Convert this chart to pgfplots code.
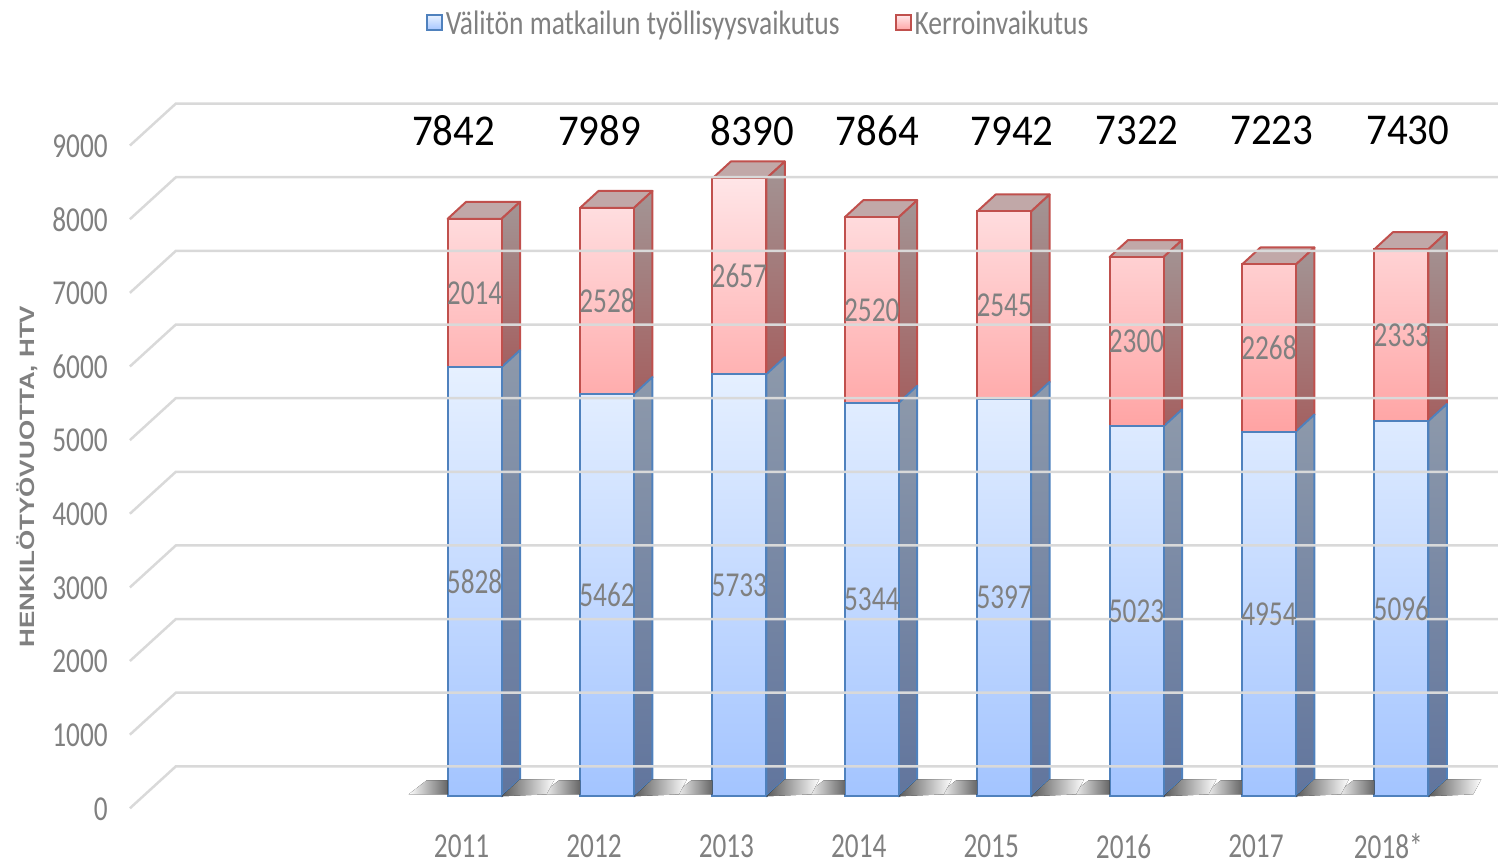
\documentclass[border=0pt]{standalone}
\usepackage{fontspec}
\setmainfont{Carlito}
\newfontfamily\lib{Liberation Sans}
\usepackage{graphicx}
\usepackage{pgfplots}
\pgfplotsset{compat=1.18}
\usepackage{pgfplotstable}

\definecolor{gridc}{HTML}{D9D9D9}
\definecolor{txt}{HTML}{808080}
\definecolor{bT}{HTML}{E6F0FF}
\definecolor{bB}{HTML}{A3C4FF}
\definecolor{bBorder}{HTML}{4F81BD}
\definecolor{bsT}{HTML}{8D99AB}
\definecolor{bsB}{HTML}{61759D}
\definecolor{rT}{HTML}{FFE5E7}
\definecolor{rB}{HTML}{FFA3A3}
\definecolor{rBorder}{HTML}{C0504D}
\definecolor{rsT}{HTML}{A39595}
\definecolor{rsB}{HTML}{A46060}
\definecolor{rTop}{HTML}{C1A8A8}

\pgfplotstableread{
x      blue  red
475    5828  2014
607.5  5462  2528
740    5733  2657
872.5  5344  2520
1005   5397  2545
1137.5 5023  2300
1270   4954  2268
1402.5 5096  2333
}\datatable

\tikzset{
  lbl/.style={font=\fontsize{35}{40}\selectfont, text=txt, inner sep=0pt},
}

% index, x centre, blue value, red value
\newcommand\barfaces[4]{%
  \filldraw[top color=bsT, bottom color=bsB, draw=bBorder, line width=2pt, line join=round]
    (axis cs:#2+27,0) -- (axis cs:#2+45.5,231) -- (axis cs:#2+45.5,#3+231) -- (axis cs:#2+27,#3) -- cycle;
  \filldraw[top color=rsT, bottom color=rsB, draw=rBorder, line width=2pt, line join=round]
    (axis cs:#2+27,#3) -- (axis cs:#2+45.5,#3+231) -- (axis cs:#2+45.5,#3+#4+231) -- (axis cs:#2+27,#3+#4) -- cycle;
  \filldraw[fill=rTop, draw=rBorder, line width=2pt, line join=round]
    (axis cs:#2-27,#3+#4) -- (axis cs:#2+27,#3+#4) -- (axis cs:#2+45.5,#3+#4+231) -- (axis cs:#2-8.5,#3+#4+231) -- cycle;
  \coordinate (lb#1) at (axis cs:#2,#3/2);
  \coordinate (lr#1) at (axis cs:#2,#3+#4/2);
}
\newcommand\shadowat[1]{%
  \fill[left color=white, right color=black!60] (axis cs:#1-66,27) -- (axis cs:#1-27,27) -- (axis cs:#1-27,217) -- (axis cs:#1-48,217) -- cycle;
  \fill[left color=black!65, right color=white] (axis cs:#1+27,0) -- (axis cs:#1+45.5,231) -- (axis cs:#1+80,231) -- (axis cs:#1+72,27) -- cycle;
}

\begin{document}
\begin{tikzpicture}
\begin{axis}[
  width=1499pt, height=867pt, scale only axis,
  xmin=0, xmax=1499, ymin=-950, ymax=10814,
  hide axis, clip=false,
  ybar stacked, bar width=54,
  legend columns=2,
  legend image code/.code={\draw[#1] (0pt,-7.5pt) rectangle (15pt,7.5pt);},
  legend style={draw=none, fill=none, inner sep=0pt,
    at={(axis cs:426,10502)}, anchor=west,
    font=\fontsize{34}{38}\selectfont, text=txt,
    nodes={inner sep=3pt},
    /tikz/every even column/.append style={column sep=52pt}},
]
\path (rel axis cs:0,0) rectangle (rel axis cs:1,1);

% perspective grid
\pgfplotsinvokeforeach{0,1000,2000,3000,4000,5000,6000,7000,8000,9000}{
  \draw[gridc, line width=2.5pt] (axis cs:130,#1-163) -- (axis cs:176,#1+407) -- (axis cs:1499,#1+407);
  \node[lbl, anchor=east] at (axis cs:108,#1-170) {\scalebox{0.78}[1]{#1}};
}

% floor shadows
\shadowat{475}\shadowat{607.5}\shadowat{740}\shadowat{872.5}
\shadowat{1005}\shadowat{1137.5}\shadowat{1270}\shadowat{1402.5}

\addplot[draw=bBorder, line width=2pt, top color=bT, bottom color=bB] table[x=x, y=blue] {\datatable};
\addlegendentry{\scalebox{0.81}[1]{Välitön matkailun työllisyysvaikutus}}
\addplot[draw=rBorder, line width=2pt, top color=rT, bottom color=rB] table[x=x, y=red] {\datatable};
\addlegendentry{\scalebox{0.81}[1]{Kerroinvaikutus}}

\barfaces{1}{475}{5828}{2014}
\barfaces{2}{607.5}{5462}{2528}
\barfaces{3}{740}{5733}{2657}
\barfaces{4}{872.5}{5344}{2520}
\barfaces{5}{1005}{5397}{2545}
\barfaces{6}{1137.5}{5023}{2300}
\barfaces{7}{1270}{4954}{2268}
\barfaces{8}{1402.5}{5096}{2333}

% totals
\foreach \xx/\tt in {454/7842, 600/7989, 753/8390, 878/7864, 1013/7942, 1138/7322, 1273/7223, 1409/7430}{
  \edef\temp{\noexpand\node[font=\noexpand\fontsize{44}{48}\noexpand\selectfont, text=black, inner sep=0pt] at (axis cs:\xx,9037) {\noexpand\scalebox{0.93}[1]{\tt}};}\temp
}

% categories
\foreach \xx/\cc in {462/2011, 594.5/2012, 727/2013, 859.5/2014, 992/2015, 1124.5/2016, 1257/2017, 1389.5/2018*}{
  \edef\temp{\noexpand\node[lbl] at (axis cs:\xx,-680) {\noexpand\scalebox{0.78}[1]{\cc}};}\temp
}

\node[rotate=90, text=txt, inner sep=0pt, font=\lib\bfseries\fontsize{26}{30}\selectfont] at (axis cs:27,4342) {\scalebox{1}[0.8]{HENKILÖTYÖVUOTTA, HTV}};
\end{axis}
% segment value labels (on top of the bars)
\foreach \i/\b/\r in {1/5828/2014, 2/5462/2528, 3/5733/2657, 4/5344/2520, 5/5397/2545, 6/5023/2300, 7/4954/2268, 8/5096/2333}{
  \node[lbl] at (lb\i) {\scalebox{0.78}[1]{\b}};
  \node[lbl] at (lr\i) {\scalebox{0.78}[1]{\r}};
}
\end{tikzpicture}
\end{document}
